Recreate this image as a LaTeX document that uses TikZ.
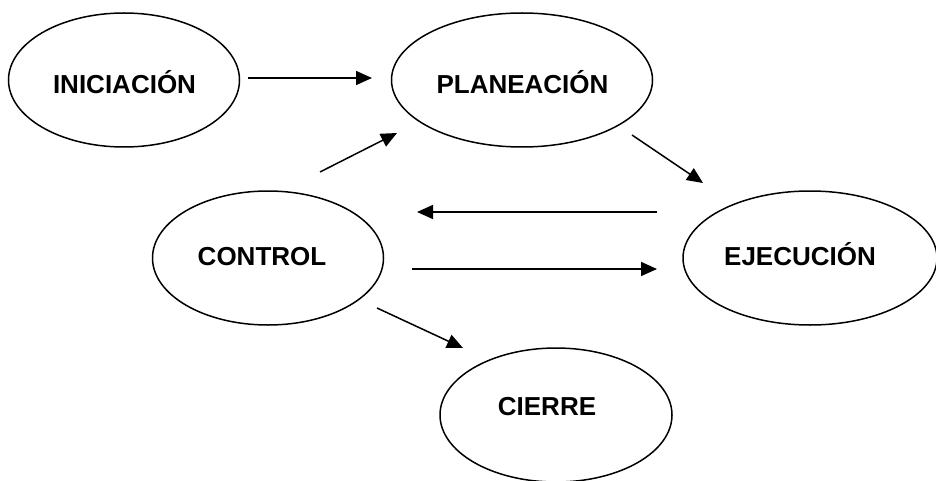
\documentclass[tikz,border=0pt]{standalone}
\usepackage{fontspec}
\setmainfont{Liberation Sans}
\usetikzlibrary{shapes.geometric,arrows.meta}
\tikzset{
  phase/.style={ellipse, draw=black, line width=1.5pt, inner sep=0pt, fill=white},
  lbl/.style={anchor=base, inner sep=0pt, font=\fontsize{26}{30}\selectfont\bfseries},
  flow/.style={line width=1.5pt, -{Triangle[length=16pt,width=14pt]}}
}
\begin{document}
\begin{tikzpicture}[x=1pt,y=-1pt]
\useasboundingbox (0,0) rectangle (936,481);
\node[phase, minimum width=231, minimum height=134] (ini) at (124,80) {};
\node[phase, minimum width=261, minimum height=134] (pla) at (522,80) {};
\node[phase, minimum width=231, minimum height=134] (con) at (268,258) {};
\node[phase, minimum width=254, minimum height=134] (eje) at (810,258) {};
\node[phase, minimum width=232, minimum height=134] (cie) at (556,415) {};
\node[lbl] (iniT) at (124.5,94) {INICIACIÓN};
\node[lbl] (plaT) at (522.5,94) {PLANEACIÓN};
\node[lbl] (conT) at (262,265) {CONTROL};
\node[lbl] (ejeT) at (800,265) {EJECUCIÓN};
\node[lbl] (cieT) at (547,415) {CIERRE};
\coordinate (a1s) at (248,78);  \coordinate (a1e) at (372,78);
\coordinate (a2s) at (320,172); \coordinate (a2e) at (397,133);
\coordinate (a3s) at (632,135); \coordinate (a3e) at (703,183);
\coordinate (a4s) at (657,212); \coordinate (a4e) at (417,212);
\coordinate (a5s) at (412,269); \coordinate (a5e) at (657,269);
\coordinate (a6s) at (377,308); \coordinate (a6e) at (463,348);
\draw[flow] (a1s) -- (a1e);
\draw[flow] (a2s) -- (a2e);
\draw[flow] (a3s) -- (a3e);
\draw[flow] (a4s) -- (a4e);
\draw[flow] (a5s) -- (a5e);
\draw[flow] (a6s) -- (a6e);
\end{tikzpicture}
\end{document}
